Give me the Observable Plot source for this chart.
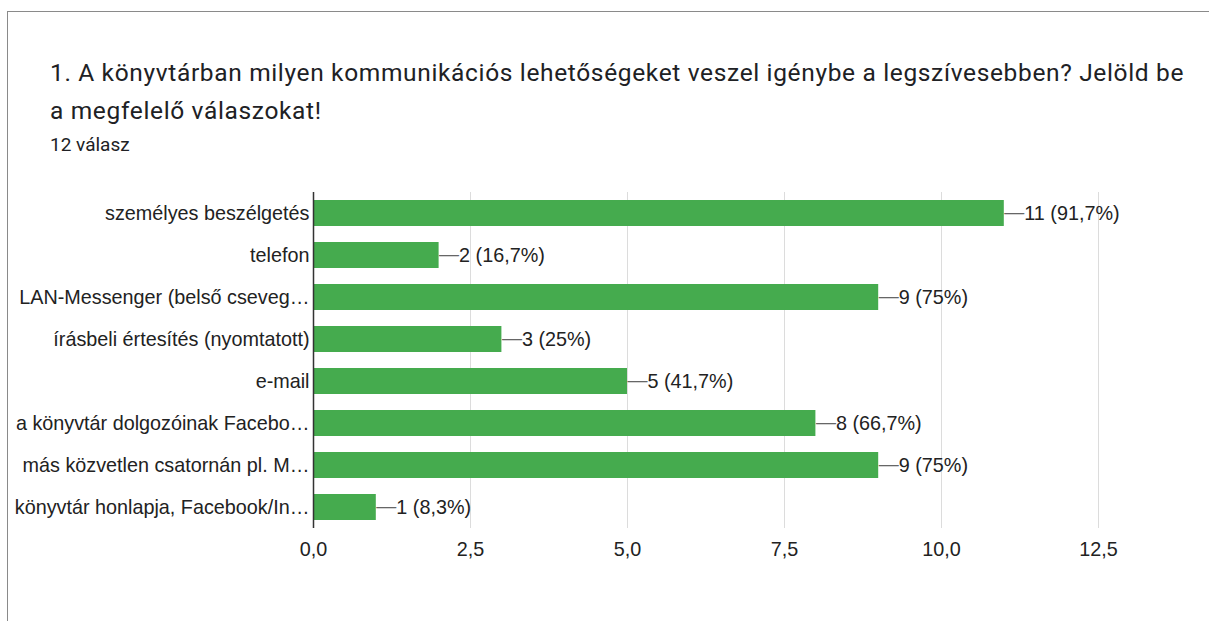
<!DOCTYPE html>
<html>
<head>
<meta charset="utf-8">
<script src="https://cdn.jsdelivr.net/npm/d3@7"></script>
<script src="https://cdn.jsdelivr.net/npm/@observablehq/plot@0.6"></script>
<style>
  html, body { margin: 0; padding: 0; background: #fff; width: 1209px; height: 621px; overflow: hidden; }
  #frame { position: absolute; left: 7px; top: 11px; width: 1220px; height: 640px; border: 1.5px solid #8a8a8a; box-sizing: border-box; }
  #title { position: absolute; left: 50px; top: 54px; width: 1150px; font-family: Roboto, sans-serif; font-size: 24.5px; letter-spacing: 0.65px; line-height: 38px; color: #202124; }
  #sub { position: absolute; left: 50px; top: 133px; font-family: Roboto, sans-serif; font-size: 19px; color: #202124; }
  #chart { position: absolute; left: 0; top: 180px; }
</style>
</head>
<body>
<div id="frame"></div>
<div id="title">1. A könyvtárban milyen kommunikációs lehetőségeket veszel igénybe a legszívesebben? Jelöld be a megfelelő válaszokat!</div>
<div id="sub">12 válasz</div>
<div id="chart"></div>
<script>
const categories = [
  "személyes beszélgetés",
  "telefon",
  "LAN-Messenger (belső cseveg…",
  "írásbeli értesítés (nyomtatott)",
  "e-mail",
  "a könyvtár dolgozóinak Facebo…",
  "más közvetlen csatornán pl. M…",
  "könyvtár honlapja, Facebook/In…"
];
const counts = [11, 2, 9, 3, 5, 8, 9, 1];
const percents = ["91,7%", "16,7%", "75%", "25%", "41,7%", "66,7%", "75%", "8,3%"];
const xTicks = [0, 2.5, 5, 7.5, 10, 12.5];

const data = categories.map((c, i) => ({cat: c, value: counts[i], label: `${counts[i]} (${percents[i]})`}));
const fmt = d => d.toFixed(1).replace(".", ",");

const chart = Plot.plot({
  width: 1209,
  height: 394,
  marginLeft: 313,
  marginRight: 111,
  marginTop: 12,
  marginBottom: 46,
  style: {fontFamily: "'Liberation Sans', Arial, sans-serif", fontSize: "19.8px", color: "#222", background: "transparent"},
  x: {domain: [0, 12.5], ticks: xTicks, tickFormat: fmt, tickSize: 0, tickPadding: 13, label: null},
  y: {domain: categories, paddingInner: 0.38, paddingOuter: 0.19, tickSize: 0, tickPadding: 4, label: null},
  marks: [
    Plot.gridX(xTicks.filter(t => t > 0), {stroke: "#dcdcdc", strokeOpacity: 1, strokeWidth: 1}),
    Plot.barX(data, {x: "value", y: "cat", fill: "#45ab4e"}),
    Plot.ruleX([0], {stroke: "#333", strokeWidth: 1.5}),
    Plot.text(data, {x: "value", y: "cat", text: () => "—", textAnchor: "start", dx: 0, dy: -1, fill: "#666", fontSize: 20}),
    Plot.text(data, {x: "value", y: "cat", text: "label", textAnchor: "start", dx: 20, fill: "#222", fontSize: 19.8})
  ]
});
document.getElementById("chart").appendChild(chart);
</script>
</body>
</html>
